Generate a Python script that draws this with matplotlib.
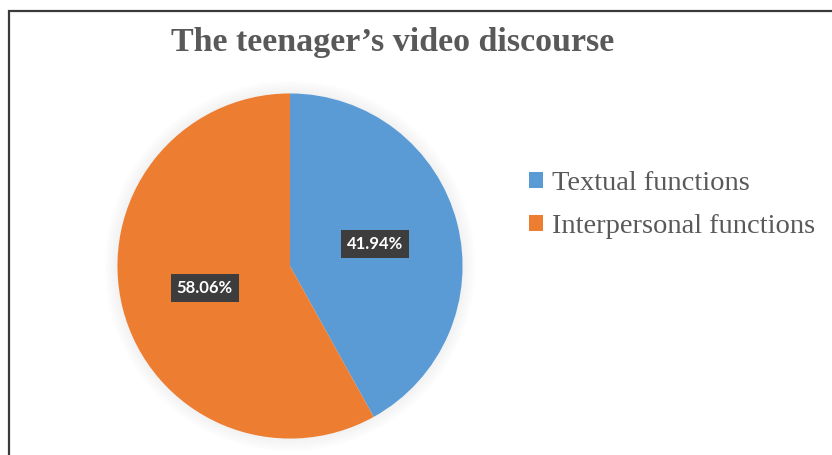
import matplotlib
matplotlib.use("Agg")
import matplotlib.pyplot as plt
from matplotlib.patches import Rectangle, Circle

# data
categories = ["Textual functions", "Interpersonal functions"]
shares = [41.94, 58.06]
colors = ["#5B9BD5", "#ED7D31"]
title = "The teenager\u2019s video discourse"

W, H = 832, 455
fig = plt.figure(figsize=(W / 100, H / 100), dpi=100)
fig.patch.set_facecolor("white")

# chart frame: only top and left edges show in the crop
fig.patches.append(Rectangle((9 / W, -0.1), 1.2, (H - 11) / H + 0.1,
                             transform=fig.transFigure, fill=False,
                             ec="#3a3a3a", lw=1.6, zorder=10))

# pie axes: centre (290, 266) px, radius 176 px
r = 176
ax = fig.add_axes([(290 - r) / W, (H - 266 - r) / H, 2 * r / W, 2 * r / H])
ax.set_axis_off()
# faint glow around the pie
for k in range(6):
    ax.add_patch(Circle((0, 0), 1.0 + 0.012 * (k + 1), fc="#d0d0d0",
                        ec="none", alpha=0.045, zorder=0, clip_on=False))
wedges, _, autotexts = ax.pie(
    shares, colors=colors, startangle=90, counterclock=False,
    autopct="%.2f%%", pctdistance=0.51, radius=1.0,
    wedgeprops=dict(linewidth=0, zorder=2),
    textprops=dict(color="white", fontsize=12, fontweight="bold", family="Lato"),
)
for t in autotexts:
    t.set_zorder(5)
    t.set_bbox(dict(boxstyle="square,pad=0.35", fc="#3d3d3d", ec="none"))
ax.set_xlim(-1.02, 1.02)
ax.set_ylim(-1.02, 1.02)
ax.set_aspect("equal")

fig.text(393 / W, 1 - 43 / H, title, ha="center", va="center",
         fontsize=24.5, fontweight="bold", family="Liberation Serif", color="#595959")

leg = fig.legend(wedges, categories, loc="upper left",
                 bbox_to_anchor=(518 / W, 1 - 160 / H), frameon=False,
                 prop=dict(family="Liberation Serif", size=20.5),
                 handlelength=0.48, handleheight=0.48, handletextpad=0.33,
                 labelspacing=0.62, borderaxespad=0)
for txt in leg.get_texts():
    txt.set_color("#595959")

fig.savefig("out.png", dpi=100, facecolor="white")
